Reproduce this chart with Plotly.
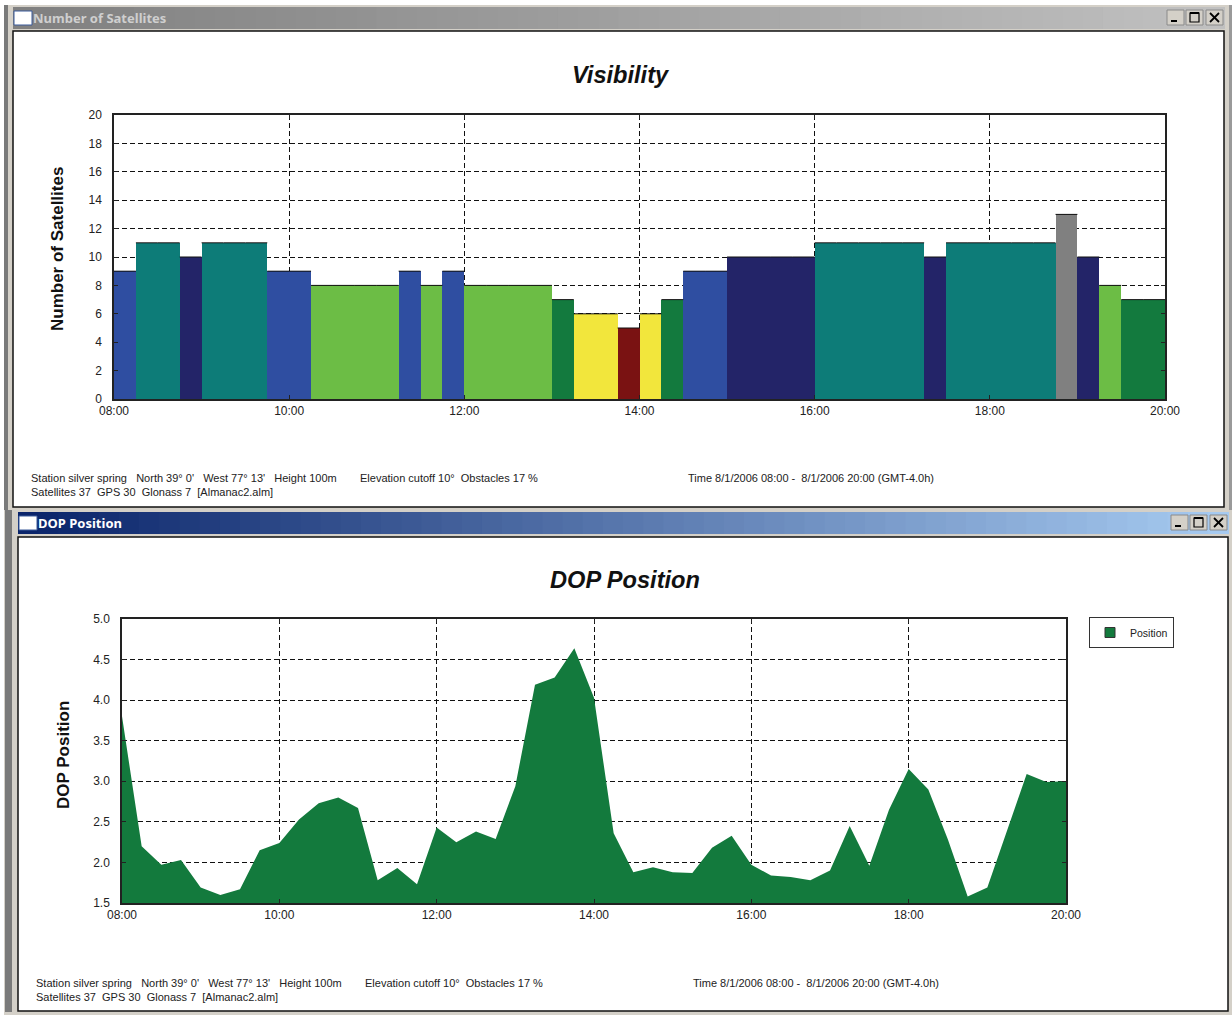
import pandas as pd
import plotly.graph_objects as go

W, H = 1232, 1015

# ---------- data ----------
satellite_counts = [9, 11, 11, 10, 11, 11, 11, 9, 9, 8, 8, 8, 8, 9, 8, 9,
                    8, 8, 8, 8, 7, 6, 6, 5, 6, 7, 9, 9, 10, 10, 10, 10,
                    11, 11, 11, 11, 11, 10, 11, 11, 11, 11, 11, 13, 10, 8, 7, 7]
dop_position = [3.80, 2.20, 1.97, 2.03, 1.69, 1.60, 1.67, 2.15, 2.24, 2.53, 2.73, 2.80, 2.67,
                1.78, 1.93, 1.73, 2.43, 2.25, 2.38, 2.29, 2.94, 4.19, 4.28, 4.64, 4.03, 2.36,
                1.88, 1.94, 1.88, 1.87, 2.18, 2.33, 1.97, 1.84, 1.82, 1.78, 1.90, 2.45, 1.96,
                2.65, 3.15, 2.90, 2.28, 1.58, 1.69, 2.40, 3.09, 2.99, 3.00]
count_colors = {5: "#7a1212", 6: "#f2e63c", 7: "#137a3e", 8: "#6cbd45", 9: "#2f4ea1",
                10: "#232468", 11: "#0d7c78", 13: "#808080"}
area_color = "#137a3d"
start_time, end_time = "2006-08-01 08:00", "2006-08-01 20:00"
footer_station = "Station silver spring   North 39° 0'   West 77° 13'   Height 100m"
footer_elev = "Elevation cutoff 10°  Obstacles 17 %"
footer_sats = "Satellites 37  GPS 30  Glonass 7  [Almanac2.alm]"
footer_time = "Time 8/1/2006 08:00 -  8/1/2006 20:00 (GMT-4.0h)"

quarter = pd.Timedelta(minutes=15)
times = pd.date_range(start_time, end_time, freq="15min")
bar_times = times[:-1]


def px(x):
    return x / W


def py(y):
    return 1 - y / H


shapes, annotations = [], []


def rect(x0, y0, x1, y1, fill, line=None, lw=1):
    shapes.append(dict(type="rect", xref="paper", yref="paper", layer="below",
                       x0=px(x0), x1=px(x1), y0=py(y1), y1=py(y0), fillcolor=fill,
                       line=dict(color=line or fill, width=lw if line else 0)))


def seg(x0, y0, x1, y1, color="#000000", lw=1.5):
    shapes.append(dict(type="line", xref="paper", yref="paper", layer="below",
                       x0=px(x0), x1=px(x1), y0=py(y0), y1=py(y1), line=dict(color=color, width=lw)))


def text(x, y, s, size=11, color="#222222", family="Liberation Sans", xanchor="left", angle=0):
    annotations.append(dict(xref="paper", yref="paper", x=px(x), y=py(y), text=s, showarrow=False,
                            xanchor=xanchor, yanchor="middle", textangle=angle,
                            font=dict(size=size, color=color, family=family)))


def lerp(c0, c1, t):
    return "#%02x%02x%02x" % tuple(round(a + (b - a) * t) for a, b in zip(c0, c1))


def window(x0, y0, x1, y1, bar_top, bar_bot, c0, c1, title, title_color, ix, btn_x):
    # title-bar gradient
    n = 60
    step = (x1 - x0) / n
    for i in range(n):
        rect(x0 + i * step, bar_top, x0 + (i + 1) * step + 1, bar_bot, lerp(c0, c1, i / (n - 1)))
    # client area
    rect(x0, y0, x1, y1, "#ffffff", "#111111", 1.5)
    # icon
    rect(ix, bar_top + 4, ix + 18, bar_top + 18, "#ffffff", "#3a5a9a", 1)
    text(ix + 17, (bar_top + bar_bot) / 2, "<b>%s</b>" % title, 13, title_color, "Noto Sans")
    # buttons
    by0, by1 = bar_top + 3, bar_top + 18
    for b, kind in zip(btn_x, "_ox"):
        rect(b, by0, b + 17, by1, "#d4d0c8", "#8a8a8a", 1)
        if kind == "_":
            seg(b + 4, by1 - 4, b + 10, by1 - 4, lw=2)
        elif kind == "o":
            rect(b + 4, by0 + 3, b + 13, by1 - 3, "#d4d0c8", "#000000", 1.2)
            seg(b + 4, by0 + 3, b + 13, by0 + 3, lw=2)
        else:
            seg(b + 4, by0 + 3, b + 13, by1 - 3, lw=1.8)
            seg(b + 4, by1 - 3, b + 13, by0 + 3, lw=1.8)


# frame background
rect(4, 5, 1232, 1015, "#d4d0c8")
rect(4, 5, 8, 510, "#7a7a7a")
rect(5, 510, 12, 1012, "#7a7a7a")
rect(1229, 5, 1232, 510, "#9a9a9a")

window(13, 31, 1224, 507, 7, 29, (128, 128, 128), (192, 192, 192),
       "Number of Satellites", "#cfcfcf", 14, (1167, 1186, 1206))
window(18, 537, 1228, 1011, 512, 534, (10, 36, 106), (166, 202, 240),
       "DOP Position", "#ffffff", 19, (1171, 1190, 1210))

# chart titles, axis titles and footers
text(621, 75, "<b><i>Visibility</i></b>", 23.6, "#111111", xanchor="center")
text(625, 580, "<b><i>DOP Position</i></b>", 23.6, "#111111", xanchor="center")
text(58, 249, "<b>Number of Satellites</b>", 17, "#111111", xanchor="center", angle=-90)
text(63, 755, "<b>DOP Position</b>", 17, "#111111", xanchor="center", angle=-90)
for dx, dy in ((0, 0), (5, 505)):
    text(29 + dx, 478 + dy, footer_station)
    text(358 + dx, 478 + dy, footer_elev)
    text(29 + dx, 492 + dy, footer_sats)
    text(686 + dx, 478 + dy, footer_time)

fig = go.Figure()

# bars
fig.add_trace(go.Bar(x=bar_times, y=satellite_counts, width=quarter.total_seconds() * 1000, offset=0,
                     marker=dict(color=[count_colors[v] for v in satellite_counts], line=dict(width=0)),
                     showlegend=False, name="Satellites", xaxis="x", yaxis="y"))
# thin black cap along each bar top
cap_x, cap_y = [], []
for t, v in zip(bar_times, satellite_counts):
    cap_x += [t, t + quarter, None]
    cap_y += [v, v, None]
fig.add_trace(go.Scatter(x=cap_x, y=cap_y, mode="lines", line=dict(color="#111111", width=1),
                         showlegend=False, hoverinfo="skip", xaxis="x", yaxis="y"))

# area
fig.add_trace(go.Scatter(x=times, y=dop_position, mode="lines", fill="tozeroy", fillcolor=area_color,
                         line=dict(color=area_color, width=0), showlegend=False, name="Position",
                         xaxis="x2", yaxis="y2"))
fig.add_trace(go.Scatter(x=[None], y=[None], mode="markers", name="Position",
                         marker=dict(symbol="square", size=10, color=area_color,
                                     line=dict(color="#333333", width=1)),
                         xaxis="x2", yaxis="y2"))

axis_common = dict(automargin=False, showline=True, linecolor="#222222", linewidth=1.5, mirror="ticks",
                   ticks="inside", ticklen=4, tickcolor="#222222", showgrid=True, gridcolor="#111111",
                   gridwidth=1, griddash="5px,3px", zeroline=False, layer="above traces",
                   tickfont=dict(family="Liberation Sans", size=12, color="#222222"))
x_common = dict(axis_common, type="date", range=[start_time, end_time], dtick=7200000,
                tick0=start_time, tickformat="%H:%M")

fig.update_layout(
    width=W, height=H, autosize=False, margin=dict(l=0, r=0, t=0, b=0),
    paper_bgcolor="#ffffff", plot_bgcolor="#ffffff", bargap=0, barmode="overlay",
    shapes=shapes, annotations=annotations,
    xaxis=dict(x_common, domain=[px(114), px(1165)], anchor="y"),
    yaxis=dict(axis_common, domain=[py(399), py(115)], anchor="x", range=[0, 20], dtick=2,
               ticklabelstandoff=8),
    xaxis2=dict(x_common, domain=[px(122), px(1066)], anchor="y2"),
    yaxis2=dict(axis_common, domain=[py(903), py(619)], anchor="x2", range=[1.5, 5], dtick=0.5,
                tickformat=".1f", ticklabelstandoff=8),
    legend=dict(x=px(1089), y=py(617), xanchor="left", yanchor="top", bgcolor="#ffffff",
                bordercolor="#333333", borderwidth=1,
                font=dict(family="Liberation Sans", size=10.5, color="#222222")),
)

fig.write_html("out.html", config={"displayModeBar": False},
               post_script="document.body.style.margin='0';document.body.style.overflow='hidden';")
